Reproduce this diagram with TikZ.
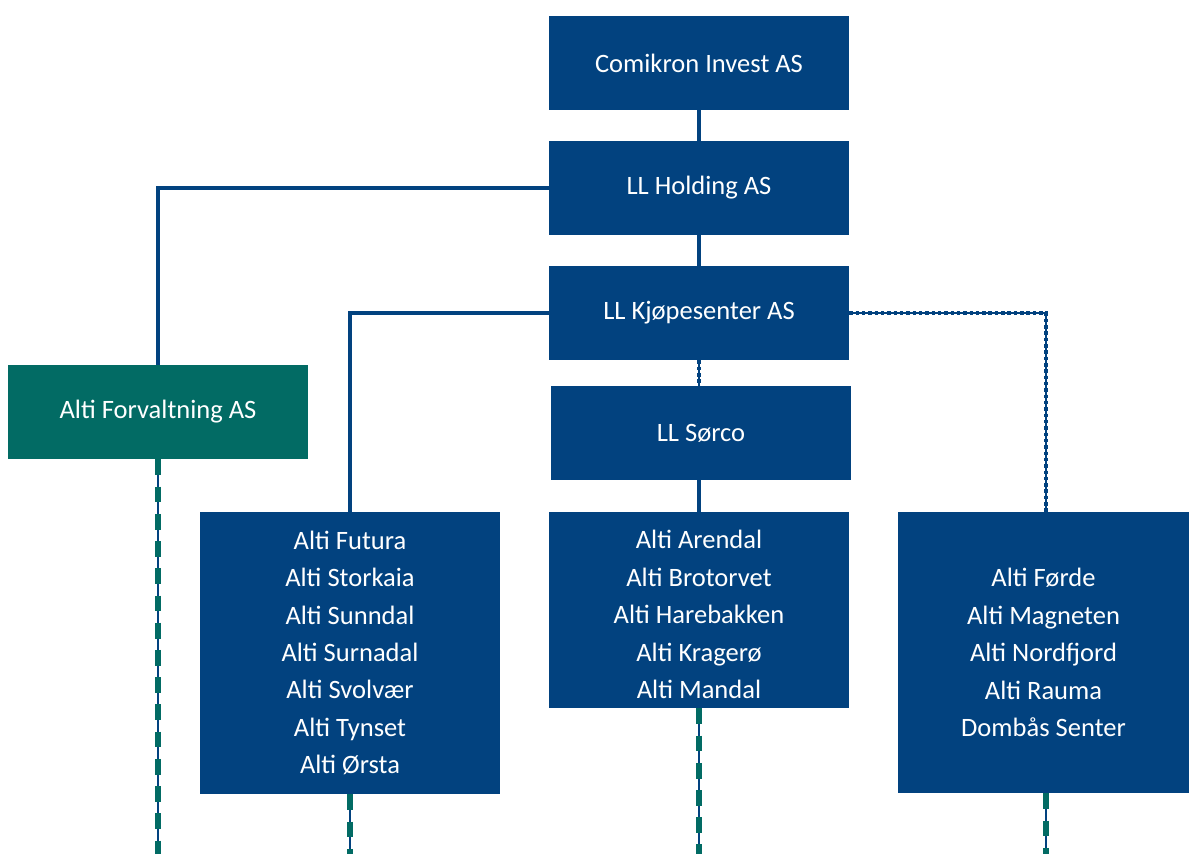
\documentclass[tikz,border=0pt]{standalone}
\usepackage{fontspec}
\setmainfont{Carlito}
\definecolor{llblue}{HTML}{02427F}
\definecolor{altigreen}{HTML}{026B64}
\tikzset{
  box/.style={fill=llblue, text=white, minimum width=6cm, minimum height=1.88cm,
    inner sep=0pt, align=center, font=\fontsize{15.1}{21.3}\selectfont},
  greenbox/.style={box, fill=altigreen},
  owns/.style={draw=llblue, line width=2.1pt},
  partly/.style={draw=llblue, line width=2.6pt, dash pattern=on 2pt off 1.6pt},
  thinline/.style={draw=llblue, line width=0.8pt},
  tail/.style={draw=altigreen, line width=3pt, dash pattern=on 9pt off 6.5pt}
}
\begin{document}
\begin{tikzpicture}[x=0.02cm, y=-0.02cm]
\useasboundingbox (0,0) rectangle (1190,854);

% Boxes
\node[box] (comikron) at (699,63) {Comikron Invest AS};
\node[box] (holding) at (699,188) {LL Holding AS};
\node[box] (kjop) at (699,313) {LL Kjøpesenter AS};
\node[box] (sorco) at (701,433) {LL Sørco};
\node[greenbox] (forv) at (158,412) {Alti Forvaltning AS};

\node[box, minimum height=5.64cm] (leftlist) at (350,653) {Alti Futura\\Alti Storkaia\\Alti Sunndal\\Alti Surnadal\\Alti Svolvær\\Alti Tynset\\Alti Ørsta};
\node[box, minimum height=3.92cm] (midlist) at (699,610) {\rule{0pt}{0.55cm}Alti Arendal\\Alti Brotorvet\\Alti Harebakken\\Alti Kragerø\\Alti Mandal};
\node[box, minimum width=5.82cm, minimum height=5.62cm] (rightlist) at (1043.5,652.5) {Alti Førde\\Alti Magneten\\Alti Nordfjord\\Alti Rauma\\Dombås Senter};

% Ownership lines
\draw[owns] (comikron) -- (holding);
\draw[owns] (holding) -- (kjop);
\draw[owns] (holding.west) -| (forv.north);
\draw[owns] (kjop.west) -| (leftlist.north);
\draw[owns] (sorco.south -| kjop.south) -- (midlist.north -| kjop.south);

% Partly owned
\draw[thinline] (kjop.south) -- (sorco.north -| kjop.south);
\draw[partly] (kjop.south) -- (sorco.north -| kjop.south);
\coordinate (corner) at (1046,313);
\draw[thinline] (kjop.east) -- (corner) -- (corner |- rightlist.north);
\draw[partly] (kjop.east) -- (corner) -- (corner |- rightlist.north);

% Tails out of the picture
\coordinate (end1) at (158,854);
\coordinate (end2) at (350,854);
\coordinate (end3) at (699,854);
\coordinate (end4) at (1046,854);
\foreach \from/\to in {forv/end1, leftlist/end2, midlist/end3, rightlist/end4}{
  \draw[thinline] (\from.south -| \to) -- (\to);
  \draw[tail] (\from.south -| \to) -- (\to);
}
\end{tikzpicture}
\end{document}
